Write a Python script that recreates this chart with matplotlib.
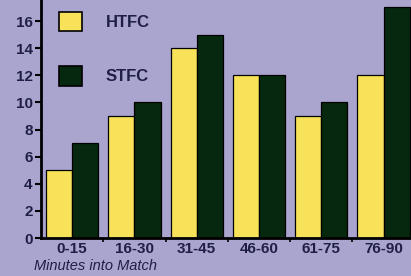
import numpy as np
import matplotlib.pyplot as plt
from matplotlib.patches import Patch

# Data
periods = ['0-15', '16-30', '31-45', '46-60', '61-75', '76-90']
htfc = [5, 9, 14, 12, 9, 12]
stfc = [7, 10, 15, 12, 10, 17]

bg = '#aaa5cf'
yellow = '#f7e25a'
green = '#06280f'
ink = '#1f1f45'

fig = plt.figure(figsize=(4.11, 2.76), dpi=100, facecolor=bg)
ax = fig.add_axes([41/411, 38/276, 1 - 41/411, 1 - 38/276])
ax.set_facecolor(bg)

x = np.arange(len(periods))
w = 0.42
ax.bar(x - w/2, htfc, w, color=yellow, edgecolor='black', linewidth=0.9, label='HTFC')
ax.bar(x + w/2, stfc, w, color=green, edgecolor='black', linewidth=0.9, label='STFC')

ax.set_xlim(-0.5, 5.44)
ax.set_ylim(0, 17.55)
ax.set_yticks(range(0, 17, 2))
ax.set_xticks(x)
ax.set_xticklabels(periods)
ax.set_xticks(np.arange(0.5, 5.5, 1), minor=True)

for s in ['top', 'right']:
    ax.spines[s].set_visible(False)
for s in ['left', 'bottom']:
    ax.spines[s].set_linewidth(2)
    ax.spines[s].set_color('black')

ax.tick_params(axis='y', length=4, width=1.5, pad=2, labelsize=11, labelcolor=ink)
ax.tick_params(axis='x', which='major', length=0, pad=3, labelsize=11, labelcolor=ink)
ax.tick_params(axis='x', which='minor', length=3, width=1.2)
for lab in ax.get_xticklabels() + ax.get_yticklabels():
    lab.set_fontweight('bold')
    lab.set_family('Liberation Sans')

fig.text(34/411, 1 - 266/276, 'Minutes into Match', fontsize=10.5, style='italic',
         color=ink, family='Liberation Sans', va='center', ha='left')

handles = [Patch(facecolor=yellow, edgecolor='black', linewidth=1.2),
           Patch(facecolor=green, edgecolor='black', linewidth=1.2)]
leg = fig.legend(handles, ['HTFC', 'STFC'], loc='upper left',
                 bbox_to_anchor=(59/411, 1 - 12/276), frameon=False,
                 borderpad=0, borderaxespad=0, handlelength=1.4, handleheight=1.4,
                 handletextpad=1.4, labelspacing=2.1,
                 prop={'family': 'Liberation Sans', 'weight': 'bold', 'size': 12})
for t in leg.get_texts():
    t.set_color(ink)

fig.savefig('out.png', dpi=100, facecolor=bg)
